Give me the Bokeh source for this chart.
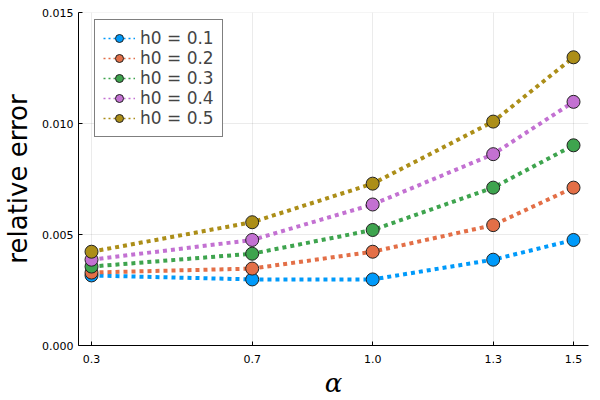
from bokeh.plotting import figure
from bokeh.models import FixedTicker, Legend, LegendItem
from bokeh.embed import file_html
from bokeh.resources import INLINE

alpha = [0.3, 0.7, 1.0, 1.3, 1.5]
x_tick_labels = ["0.3", "0.7", "1.0", "1.3", "1.5"]
y_ticks = [0.0, 0.005, 0.010, 0.015]
y_tick_labels = ["0.000", "0.005", "0.010", "0.015"]

series_names = ["h0 = 0.1", "h0 = 0.2", "h0 = 0.3", "h0 = 0.4", "h0 = 0.5"]
err_h01 = [0.00316, 0.00298, 0.00298, 0.00387, 0.00476]
err_h02 = [0.00329, 0.00347, 0.00423, 0.00543, 0.00712]
err_h03 = [0.00356, 0.00414, 0.00521, 0.00712, 0.00903]
err_h04 = [0.00387, 0.00476, 0.00636, 0.00863, 0.01099]
err_h05 = [0.00423, 0.00556, 0.00730, 0.01010, 0.01300]
series = [err_h01, err_h02, err_h03, err_h04, err_h05]
colors = ["#009AFA", "#E36F47", "#3EA44E", "#C371D2", "#AC8E18"]

p = figure(width=600, height=400, output_backend="svg", toolbar_location=None,
           x_range=(0.2676, 1.5373), y_range=(0.0, 0.01502),
           min_border_left=78, min_border_right=12, min_border_top=12, min_border_bottom=53)
p.outline_line_color = None
p.background_fill_color = "white"

items = []
for name, ys, c in zip(series_names, series, colors):
    p.line(alpha, ys, line_color=c, line_width=4, line_dash="4 4")
    pts = p.scatter(alpha, ys, size=13, fill_color=c, line_color="#222222", line_width=1)
    # thin dotted copy of the series, hidden in the plot, used for the legend swatch
    leg_line = p.line(alpha, ys, line_color=c, line_width=1.5, line_dash="2 3", visible=False)
    items.append(LegendItem(label=name, renderers=[leg_line, pts]))

lg = Legend(items=items)
p.add_layout(lg, "center")

p.xaxis.ticker = FixedTicker(ticks=alpha)
p.xaxis.major_label_overrides = {a: l for a, l in zip(alpha, x_tick_labels)}
p.yaxis.ticker = FixedTicker(ticks=y_ticks)
p.yaxis.major_label_overrides = {a: l for a, l in zip(y_ticks, y_tick_labels)}

for ax in (p.xaxis, p.yaxis):
    ax.major_label_text_font = "DejaVu Sans"
    ax.major_label_text_font_size = "11px"
    ax.major_label_text_color = "black"
    ax.major_label_standoff = 5
    ax.axis_line_color = "black"
    ax.axis_line_width = 1
    ax.major_tick_in = 4
    ax.major_tick_out = 0
    ax.major_tick_line_color = "black"
    ax.minor_tick_line_color = None
    ax.axis_label_text_color = "black"
p.xaxis.major_label_standoff = 9

p.xaxis.axis_label = "α"
p.xaxis.axis_label_text_font = "DejaVu Serif"
p.xaxis.axis_label_text_font_style = "italic"
p.xaxis.axis_label_text_font_size = "26px"
p.xaxis.axis_label_standoff = 2

p.yaxis.axis_label = "relative error"
p.yaxis.axis_label_text_font = "DejaVu Sans"
p.yaxis.axis_label_text_font_style = "normal"
p.yaxis.axis_label_text_font_size = "26px"
p.yaxis.axis_label_standoff = 6

p.xgrid.ticker = FixedTicker(ticks=alpha)
p.ygrid.ticker = FixedTicker(ticks=y_ticks)
p.grid.grid_line_color = "#000000"
p.grid.grid_line_alpha = 0.08

lg.location = (16, 208)
lg.border_line_color = "black"
lg.border_line_width = 1
lg.label_text_font = "DejaVu Sans"
lg.label_text_font_size = "17px"
lg.glyph_width = 32
lg.glyph_height = 20
lg.label_height = 20
lg.spacing = 0
lg.padding = 8
lg.label_standoff = 5
lg.margin = 0
lg.background_fill_alpha = 1.0

open("out.html", "w").write(file_html(p, INLINE))
